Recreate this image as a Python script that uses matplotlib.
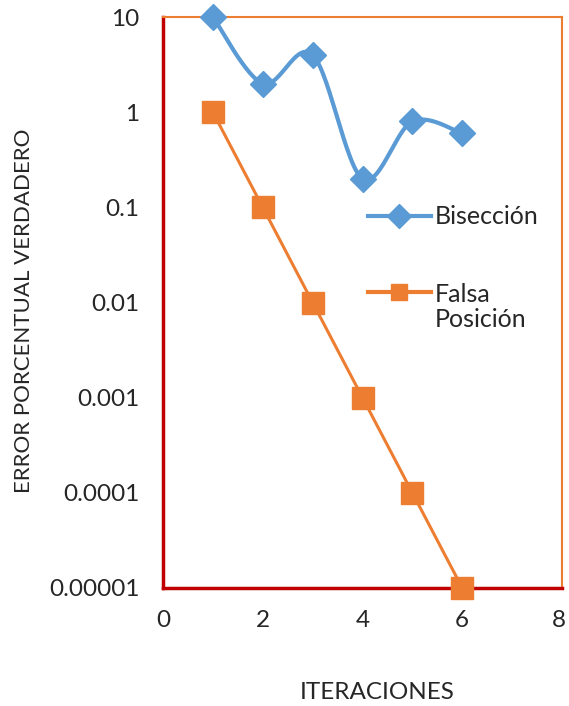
import matplotlib
matplotlib.use("Agg")
import matplotlib.pyplot as plt
import matplotlib.transforms as mtransforms
import numpy as np
from matplotlib.lines import Line2D
from matplotlib.legend_handler import HandlerLine2D

iteraciones = [1, 2, 3, 4, 5, 6]
biseccion = [10, 2, 4, 0.2, 0.8, 0.6]
falsa_posicion = [1, 0.1, 0.01, 0.001, 0.0001, 0.00001]
yticks = [10, 1, 0.1, 0.01, 0.001, 0.0001, 0.00001]
ytick_labels = ["10", "1", "0.1", "0.01", "0.001", "0.0001", "0.00001"]
xticks = [0, 2, 4, 6, 8]
series_names = ["Bisección", "Falsa\nPosición"]

BLUE = "#5B9BD5"
ORANGE = "#ED7D31"
DARKRED = "#C00000"
TXT = "#262626"
FS_TICK = 17.5
FS_LEG = 18

plt.rcParams['font.family'] = ['Lato', 'DejaVu Sans']

fig = plt.figure(figsize=(5.69, 7.06), dpi=100)
ax = fig.add_axes([163/569, 1-588/706, (562-163)/569, (588-17)/706])


def smooth(xs, ys, n=30):
    # Bezier smoothing (Excel-like) in (x, log10 y) space
    x = np.asarray(xs, float)
    y = np.log10(np.asarray(ys, float))
    P = np.column_stack([x, y])
    out = []
    t = np.linspace(0, 1, n)
    for i in range(len(P)-1):
        p0 = P[i-1] if i > 0 else P[i]
        p1 = P[i]
        p2 = P[i+1]
        p3 = P[i+2] if i+2 < len(P) else P[i+1]
        c1 = p1 + (p2 - p0) / 6
        c2 = p2 - (p3 - p1) / 6
        seg = ((1-t)**3)[:, None]*p1 + (3*(1-t)**2*t)[:, None]*c1 + (3*(1-t)*t**2)[:, None]*c2 + (t**3)[:, None]*p2
        out.append(seg if i == 0 else seg[1:])
    S = np.vstack(out)
    return S[:, 0], 10**S[:, 1]

sx, sy = smooth(iteraciones, biseccion)
ax.plot(sx, sy, color=BLUE, lw=3, solid_capstyle='round', clip_on=False, zorder=3)
ax.plot(iteraciones, biseccion, linestyle='none', marker='D', ms=13, color=BLUE,
        clip_on=False, zorder=4)
ax.plot(iteraciones, falsa_posicion, color=ORANGE, lw=2.2, marker='s', ms=16,
        clip_on=False, zorder=4)

ax.set_yscale('log')
ax.set_ylim(0.00001, 10)
ax.set_xlim(0, 8)
ax.set_yticks(yticks)
ax.set_yticklabels(ytick_labels)
ax.minorticks_off()
ax.set_xticks(xticks)
ax.tick_params(axis='both', length=0, labelsize=FS_TICK, colors=TXT)
ax.tick_params(axis='y', pad=17)
ax.tick_params(axis='x', pad=16)
last = ax.get_xticklabels()[-1]
last.set_transform(last.get_transform() + mtransforms.ScaledTranslation(-3/100, 0, fig.dpi_scale_trans))

for s in ['left', 'bottom']:
    ax.spines[s].set_color(DARKRED)
    ax.spines[s].set_linewidth(2.5)
for s in ['top', 'right']:
    ax.spines[s].set_color(ORANGE)
    ax.spines[s].set_linewidth(1.5)

ax.set_xlabel("ITERACIONES", fontsize=17.5, color=TXT)
ax.xaxis.set_label_coords((377-163)/399, (588-682)/571)
ax.set_ylabel("ERROR PORCENTUAL VERDADERO", fontsize=16, color=TXT)
ax.yaxis.set_label_coords((34-163)/399, (588-311)/571)


class ShiftedHandler(HandlerLine2D):
    def __init__(self, dy=0.0, **kw):
        super().__init__(**kw)
        self.dy = dy

    def create_artists(self, legend, orig_handle, xdescent, ydescent, width,
                       height, fontsize, trans):
        arts = super().create_artists(legend, orig_handle, xdescent, ydescent,
                                      width, height, fontsize, trans)
        for a in arts:
            a.set_ydata(np.asarray(a.get_ydata(), float) + self.dy)
        return arts


handles = [Line2D([], [], color=BLUE, lw=3, marker='D', ms=12),
           Line2D([], [], color=ORANGE, lw=3, marker='s', ms=12)]
leg = fig.legend(handles, series_names, loc='upper left',
                 bbox_to_anchor=(345/569, 1-183/706), frameon=False, fontsize=FS_LEG,
                 handlelength=2.55, handletextpad=0.15, labelspacing=2.2,
                 labelcolor=TXT,
                 handler_map={handles[1]: ShiftedHandler(dy=12)})
for t in leg.get_texts():
    t.set_linespacing(1.1)

fig.savefig("out.png", dpi=100)
